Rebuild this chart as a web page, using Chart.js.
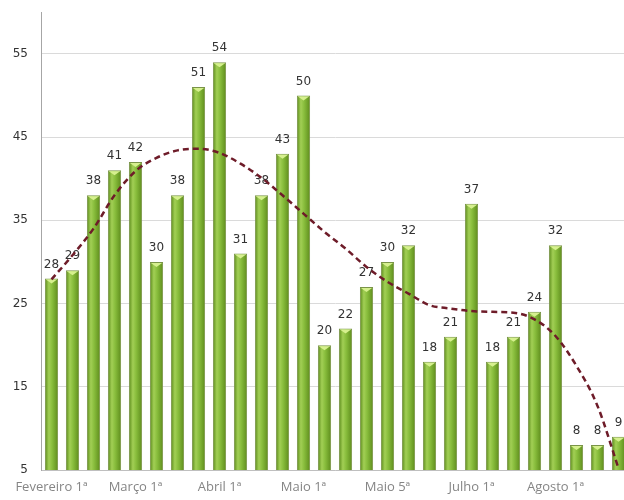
<!DOCTYPE html>
<html>
<head>
<meta charset="utf-8">
<script src="https://cdn.jsdelivr.net/npm/chart.js@4/dist/chart.umd.min.js"></script>
<style>
    html, body { margin: 0; padding: 0; background: #fff; overflow: hidden; }
    #wrap { width: 629px; height: 500px; }
</style>
</head>
<body>
<div id="wrap"><canvas id="weeklyChart" width="629" height="500"></canvas></div>
<script>
// weekly counts, one bar per week
const weekValues  = [28, 29, 38, 41, 42, 30, 38, 51, 54, 31, 38, 43, 50, 20,
                     22, 27, 30, 32, 18, 21, 37, 18, 21, 24, 32, 8, 8, 9];
// trend curve, read at each week
const trendValues = [27.9, 30.8, 34.0, 38.0, 40.9, 42.5, 43.4, 43.6, 43.1, 41.8,
                     40.1, 38.0, 35.8, 33.6, 31.6, 29.4, 27.6, 26.2, 24.8, 24.4,
                     24.1, 24.0, 23.9, 23.1, 21.1, 17.5, 12.7, 5.2];
const tickLabels  = ['Fevereiro 1ª', 'Março 1ª', 'Abril 1ª', 'Maio 1ª', 'Maio 5ª', 'Julho 1ª', 'Agosto 1ª'];
const labelEvery  = 4;
const yTicks      = [5, 15, 25, 35, 45, 55];

const categories = weekValues.map((_, i) => i % labelEvery === 0 ? tickLabels[i / labelEvery] : '');

const BAR_PCT = 0.63;

function barGradient(c) {
    const chart = c.chart;
    const xs = chart.scales.x;
    if (!xs || !chart.chartArea) return '#7fb132';
    const cx = xs.getPixelForValue(c.dataIndex);
    const half = (xs.width / weekValues.length) * BAR_PCT / 2;
    const g = chart.ctx.createLinearGradient(cx - half, 0, cx + half, 0);
    g.addColorStop(0.00, '#5a8a1a');
    g.addColorStop(0.30, '#a2cf55');
    g.addColorStop(0.55, '#88bd3c');
    g.addColorStop(1.00, '#5e8c1c');
    return g;
}

// value labels and the light cap on top of each bar
const barDecor = {
    id: 'barDecor',
    afterDatasetDraw(chart, args) {
        if (args.index !== 0) return;
        const ctx = chart.ctx;
        ctx.save();
        args.meta.data.forEach((bar, i) => {
            const half = bar.width / 2;
            ctx.fillStyle = '#d6f08e';
            ctx.beginPath();
            ctx.moveTo(bar.x - half + 1, bar.y + 1);
            ctx.lineTo(bar.x + half - 1, bar.y + 1);
            ctx.lineTo(bar.x, bar.y + 5);
            ctx.closePath();
            ctx.fill();

            ctx.fillStyle = '#333';
            ctx.font = '12px "DejaVu Sans", Verdana, sans-serif';
            ctx.textAlign = 'center';
            ctx.textBaseline = 'bottom';
            ctx.fillText(String(weekValues[i]), bar.x, bar.y - 8);
        });
        ctx.restore();
    }
};

const ctx = document.getElementById('weeklyChart').getContext('2d');
new Chart(ctx, {
    type: 'bar',
    data: {
        labels: categories,
        datasets: [{
            type: 'bar',
            data: weekValues,
            backgroundColor: barGradient,
            borderColor: '#7a9448',
            borderWidth: 1,
            barPercentage: BAR_PCT,
            categoryPercentage: 1,
            order: 2
        }, {
            type: 'line',
            data: trendValues,
            borderColor: '#6e1c29',
            borderWidth: 2.5,
            borderDash: [6, 4],
            pointRadius: 0,
            fill: false,
            cubicInterpolationMode: 'monotone',
            order: 1
        }]
    },
    options: {
        responsive: false,
        animation: false,
        layout: { padding: { top: 12, right: 0, left: 0, bottom: 0 } },
        scales: {
            x: {
                grid: { display: false, drawTicks: false },
                border: { display: true, color: '#bfbfbf' },
                ticks: {
                    autoSkip: false,
                    maxRotation: 0,
                    padding: 9,
                    color: '#858585',
                    font: { family: '"Open Sans", sans-serif', size: 13 }
                },
                afterFit: s => { s.height = 30; }
            },
            y: {
                min: 5,
                max: 60,
                ticks: {
                    stepSize: 10,
                    padding: 5,
                    color: '#333',
                    font: { family: '"DejaVu Sans", Verdana, sans-serif', size: 12 }
                },
                // tick marks kept only as spacing between labels and axis
                grid: { color: '#dadada', drawTicks: true, tickLength: 8, tickColor: 'rgba(0,0,0,0)' },
                border: { color: '#a6a6a6' },
                afterBuildTicks: s => { s.ticks = yTicks.map(v => ({ value: v })); },
                afterFit: s => { s.width = 41; }
            }
        },
        plugins: {
            legend: { display: false },
            tooltip: { enabled: false }
        }
    },
    plugins: [barDecor]
});
</script>
</body>
</html>
